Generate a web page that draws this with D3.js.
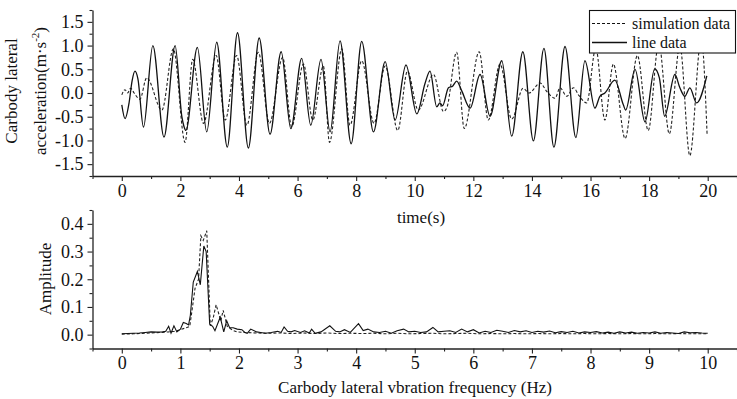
<!DOCTYPE html>
<html>
<head>
<meta charset="utf-8">
<script src="https://cdn.jsdelivr.net/npm/d3@7"></script>
<style>
  body { margin: 0; background: #fff; }
  svg text { font-family: "Liberation Serif", "Times New Roman", serif; fill: #111; }
</style>
</head>
<body>
<div id="chart"></div>
<script>
// time domain data: [time (s), lateral acceleration (m/s^2)]
const lineData = [
  [0, -0.25], [0.11, -0.54], [0.25, -0.2], [0.35, 0.25], [0.45, 0.46], [0.55, 0.3], [0.74, -0.72],
  [1.06, 1.0], [1.44, -0.93], [1.82, 1.0], [2.05, -0.5], [2.12, -0.7], [2.19, -0.79], [2.58, 0.96],
  [2.9, -0.82], [3.24, 1.07], [3.6, -1.14], [3.95, 1.27], [4.32, -1.16], [4.69, 1.16], [5.06, -0.87],
  [5.44, 0.87], [5.77, -0.75], [6.14, 0.73], [6.45, -0.68], [6.8, 0.71], [7.11, -0.82], [7.45, 1.1],
  [7.83, -1.07], [8.19, 1.09], [8.59, -0.82], [8.99, 0.66], [9.33, -0.57], [9.7, 0.59], [10.07, -0.44],
  [10.35, 0.2], [10.52, 0.46], [10.75, -0.29], [10.86, -0.21], [10.95, -0.27], [11.15, 0.11], [11.3, 0.15],
  [11.43, 0.25], [11.6, 0.05], [11.89, -0.32], [12.23, 0.39], [12.57, -0.49], [12.97, 0.68], [13.31, -0.91],
  [13.69, 0.87], [14.05, -1.01], [14.41, 0.94], [14.75, -1.14], [15.13, 0.98], [15.5, -0.94], [15.81, 0.68],
  [16.15, -0.32], [16.32, -0.07], [16.49, 0.0], [16.83, 0.27], [17.12, -0.25], [17.2, -0.36], [17.52, 0.5],
  [17.86, -0.61], [18.19, 0.51], [18.35, 0.32], [18.53, -0.49], [18.88, 0.39], [19.05, 0.11], [19.22, -0.07],
  [19.39, 0.11], [19.62, -0.21], [19.97, 0.36]
];
const simData = [
  [0, -0.04], [0.11, 0.07], [0.2, 0.0], [0.3, 0.1], [0.42, 0.0], [0.62, -0.13], [0.85, 0.32], [1.37, -0.36],
  [1.76, 0.93], [2.16, -1.04], [2.42, 0.71], [2.79, -0.64], [3.22, 0.79], [3.53, -0.57], [3.92, 0.79],
  [4.27, -0.68], [4.66, 0.86], [5.04, -0.64], [5.49, 0.75], [5.8, -0.71], [6.2, 0.61], [6.52, -0.57],
  [6.88, 0.57], [7.09, -1.04], [7.51, 0.93], [7.79, -0.68], [8.19, 0.68], [8.61, -0.64], [8.99, 0.57],
  [9.42, -0.79], [9.75, 0.46], [10.12, -0.36], [10.64, 0.39], [10.98, -0.39], [11.1, -0.3], [11.43, 0.86],
  [11.69, -0.75], [12.2, 0.87], [12.51, -0.57], [12.91, 0.61], [13.31, -0.55], [13.7, 0.1], [13.9, 0.0],
  [14.28, 0.21], [14.51, 0.03], [14.79, -0.11], [14.96, 0.11], [15.19, -0.07], [15.42, 0.11], [15.6, -0.05],
  [15.87, -0.21], [16.18, 0.95], [16.49, -0.57], [16.78, 0.61], [17.18, -0.96], [17.6, 0.79], [17.97, -0.79],
  [18.33, 1.05], [18.69, -0.86], [19.05, 1.0], [19.39, -1.32], [19.78, 1.15], [19.98, -0.89]
];

// frequency domain data: [frequency (Hz), amplitude]
const lineSpectrum = [
  [0, 0.003], [0.1, 0.004], [0.2, 0.005], [0.3, 0.006], [0.4, 0.008], [0.5, 0.01], [0.6, 0.009], [0.7, 0.01],
  [0.75, 0.012], [0.8, 0.03], [0.84, 0.005], [0.89, 0.032], [0.94, 0.01], [1.0, 0.02], [1.05, 0.044],
  [1.1, 0.04], [1.14, 0.035], [1.17, 0.07], [1.22, 0.19], [1.29, 0.228], [1.34, 0.18], [1.4, 0.32],
  [1.44, 0.3], [1.5, 0.038], [1.55, 0.03], [1.59, 0.014], [1.68, 0.063], [1.74, 0.01], [1.79, 0.05],
  [1.84, 0.025], [1.9, 0.025], [1.97, 0.02], [2.05, 0.018], [2.1, 0.008], [2.14, 0.005], [2.2, 0.02],
  [2.3, 0.01], [2.37, 0.008], [2.45, 0.005], [2.55, 0.008], [2.66, 0.012], [2.72, 0.008], [2.77, 0.028],
  [2.83, 0.012], [2.89, 0.01], [2.95, 0.015], [3.05, 0.008], [3.12, 0.014], [3.2, 0.006], [3.24, 0.02],
  [3.3, 0.005], [3.4, 0.01], [3.55, 0.032], [3.65, 0.012], [3.72, 0.01], [3.8, 0.018], [3.9, 0.008],
  [4.04, 0.04], [4.12, 0.015], [4.2, 0.02], [4.3, 0.01], [4.4, 0.008], [4.5, 0.012], [4.6, 0.005],
  [4.7, 0.014], [4.81, 0.02], [4.9, 0.01], [5.0, 0.012], [5.1, 0.008], [5.2, 0.01], [5.31, 0.026],
  [5.4, 0.01], [5.5, 0.012], [5.6, 0.014], [5.7, 0.008], [5.8, 0.02], [5.9, 0.01], [6.0, 0.018],
  [6.1, 0.006], [6.2, 0.012], [6.3, 0.008], [6.4, 0.016], [6.5, 0.012], [6.6, 0.008], [6.7, 0.015],
  [6.8, 0.01], [6.9, 0.014], [7.0, 0.008], [7.1, 0.012], [7.2, 0.009], [7.3, 0.013], [7.4, 0.007],
  [7.5, 0.011], [7.6, 0.008], [7.7, 0.012], [7.8, 0.006], [7.9, 0.01], [8.0, 0.008], [8.1, 0.011],
  [8.2, 0.006], [8.3, 0.009], [8.4, 0.005], [8.5, 0.01], [8.6, 0.006], [8.7, 0.009], [8.8, 0.005],
  [8.9, 0.008], [9.0, 0.006], [9.1, 0.01], [9.2, 0.005], [9.3, 0.008], [9.4, 0.006], [9.5, 0.004],
  [9.6, 0.01], [9.7, 0.007], [9.8, 0.008], [9.9, 0.006], [10.0, 0.005]
];
const simSpectrum = [
  [0, 0.002], [0.2, 0.003], [0.4, 0.005], [0.6, 0.007], [0.8, 0.01], [0.9, 0.012], [1.0, 0.018],
  [1.1, 0.025], [1.16, 0.03], [1.2, 0.09], [1.25, 0.167], [1.31, 0.2], [1.35, 0.357], [1.39, 0.34],
  [1.45, 0.375], [1.51, 0.032], [1.56, 0.06], [1.61, 0.108], [1.69, 0.05], [1.73, 0.088], [1.8, 0.03],
  [1.9, 0.015], [1.97, 0.01], [2.1, 0.008], [2.3, 0.006], [2.5, 0.005], [2.7, 0.006], [2.9, 0.004],
  [3.1, 0.006], [3.3, 0.004], [3.5, 0.006], [3.7, 0.004], [3.9, 0.005], [4.1, 0.004], [4.3, 0.005],
  [4.5, 0.003], [4.7, 0.005], [4.9, 0.003], [5.1, 0.004], [5.3, 0.005], [5.5, 0.003], [5.7, 0.004],
  [5.9, 0.005], [6.1, 0.003], [6.3, 0.004], [6.5, 0.003], [6.7, 0.004], [6.9, 0.003], [7.1, 0.004],
  [7.3, 0.003], [7.5, 0.004], [7.7, 0.003], [7.9, 0.004], [8.1, 0.003], [8.3, 0.004], [8.5, 0.003],
  [8.7, 0.004], [8.9, 0.003], [9.1, 0.004], [9.3, 0.003], [9.5, 0.004], [9.7, 0.003], [10.0, 0.003]
];

const timeTicks = [0, 2, 4, 6, 8, 10, 12, 14, 16, 18, 20];
const timeMinor = [-1, 1, 3, 5, 7, 9, 11, 13, 15, 17, 19, 21];
const accelTicks = [-1.5, -1.0, -0.5, 0.0, 0.5, 1.0, 1.5];
const accelMinor = [-1.75, -1.25, -0.75, -0.25, 0.25, 0.75, 1.25, 1.75];
const freqTicks = [0, 1, 2, 3, 4, 5, 6, 7, 8, 9, 10];
const freqMinor = [-0.5, 0.5, 1.5, 2.5, 3.5, 4.5, 5.5, 6.5, 7.5, 8.5, 9.5, 10.5];
const ampTicks = [0.0, 0.1, 0.2, 0.3, 0.4];
const ampMinor = [-0.05, 0.05, 0.15, 0.25, 0.35, 0.45];
const legendLabels = ['simulation data', 'line data'];

const W = 737, H = 399;
const serif = '"Liberation Serif", "Times New Roman", serif';
const svg = d3.select('#chart').append('svg')
  .attr('width', W).attr('height', H);

const axisColor = '#222';
const fmt = d => d.toFixed(1);

function styleAxis(g) {
  g.attr('font-family', serif).attr('font-size', 18);
  g.selectAll('path.domain').attr('stroke', axisColor).attr('stroke-width', 1.3);
  g.selectAll('.tick line').attr('stroke', axisColor).attr('stroke-width', 1.1);
  g.selectAll('.tick text').attr('fill', '#111');
}

function drawAxes(x, y, xt, xm, yt, ym, xFmt, yFmt) {
  const [x0] = x.range();
  const [y0] = y.range();
  // minor ticks
  svg.append('g').attr('transform', 'translate(0,' + y0 + ')')
    .call(d3.axisBottom(x).tickValues(xm).tickSize(3).tickFormat(''))
    .call(g => g.select('.domain').remove())
    .call(styleAxis);
  svg.append('g').attr('transform', 'translate(' + x0 + ',0)')
    .call(d3.axisLeft(y).tickValues(ym).tickSize(3).tickFormat(''))
    .call(g => g.select('.domain').remove())
    .call(styleAxis);
  // major ticks
  svg.append('g').attr('transform', 'translate(0,' + y0 + ')')
    .call(d3.axisBottom(x).tickValues(xt).tickSize(5).tickSizeOuter(0).tickPadding(3).tickFormat(xFmt))
    .call(styleAxis);
  svg.append('g').attr('transform', 'translate(' + x0 + ',0)')
    .call(d3.axisLeft(y).tickValues(yt).tickSize(5).tickSizeOuter(0).tickPadding(4).tickFormat(yFmt))
    .call(styleAxis);
}

// ---- top chart: acceleration vs time
const xT = d3.scaleLinear().domain([-1, 21]).range([92.5, 737]);
const yA = d3.scaleLinear().domain([-1.75, 1.75]).range([176, 10]);

const timeLine = d3.line()
  .x(d => xT(d[0]))
  .y(d => yA(d[1]))
  .curve(d3.curveMonotoneX);

svg.append('path').datum(simData)
  .attr('d', timeLine).attr('fill', 'none')
  .attr('stroke', '#222').attr('stroke-width', 1.1).attr('stroke-dasharray', '3,2');
svg.append('path').datum(lineData)
  .attr('d', timeLine).attr('fill', 'none')
  .attr('stroke', '#111').attr('stroke-width', 1.3);

drawAxes(xT, yA, timeTicks, timeMinor, accelTicks, accelMinor, d => d, fmt);

svg.append('text')
  .attr('x', 421).attr('y', 223)
  .attr('text-anchor', 'middle').style('font-size', '17px')
  .text('time(s)');

const yTitle = svg.append('text')
  .attr('transform', 'translate(0,91) rotate(-90)')
  .attr('text-anchor', 'middle').style('font-size', '17px');
yTitle.append('tspan').attr('x', 0).attr('y', 17).text('Carbody lateral');
const t2 = yTitle.append('tspan').attr('x', 0).attr('y', 46);
t2.append('tspan').text('acceleration(m\u00b7s');
t2.append('tspan').attr('dy', -7).style('font-size', '11px').text('-2');
t2.append('tspan').attr('dy', 7).text(')');

// legend
const lg = svg.append('g');
lg.append('rect')
  .attr('x', 589.5).attr('y', 10.5).attr('width', 146).attr('height', 42.5)
  .attr('fill', '#fff').attr('stroke', '#111').attr('stroke-width', 1.1);
legendLabels.forEach((lab, i) => {
  const cy = 23.5 + i * 19;
  lg.append('line')
    .attr('x1', 592).attr('x2', 627).attr('y1', cy).attr('y2', cy)
    .attr('stroke', '#111').attr('stroke-width', i === 0 ? 1.1 : 1.3)
    .attr('stroke-dasharray', i === 0 ? '3,2' : null);
  lg.append('text')
    .attr('x', 632).attr('y', cy + 5)
    .style('font-size', '16px')
    .text(lab);
});

// ---- bottom chart: amplitude spectrum
const xF = d3.scaleLinear().domain([-0.5, 10.5]).range([92.5, 737]);
const yS = d3.scaleLinear().domain([-0.05, 0.45]).range([348.5, 210]);

const specLine = d3.line()
  .x(d => xF(d[0]))
  .y(d => yS(d[1]));

svg.append('path').datum(simSpectrum)
  .attr('d', specLine).attr('fill', 'none')
  .attr('stroke', '#222').attr('stroke-width', 1.1).attr('stroke-dasharray', '3,2');
svg.append('path').datum(lineSpectrum)
  .attr('d', specLine).attr('fill', 'none')
  .attr('stroke', '#111').attr('stroke-width', 1.1);

drawAxes(xF, yS, freqTicks, freqMinor, ampTicks, ampMinor, d => d, fmt);

svg.append('text')
  .attr('x', 415).attr('y', 393)
  .attr('text-anchor', 'middle').style('font-size', '17px')
  .text('Carbody lateral vbration frequency (Hz)');

svg.append('text')
  .attr('transform', 'translate(51,279) rotate(-90)')
  .attr('text-anchor', 'middle').style('font-size', '17px')
  .text('Amplitude');
</script>
</body>
</html>
